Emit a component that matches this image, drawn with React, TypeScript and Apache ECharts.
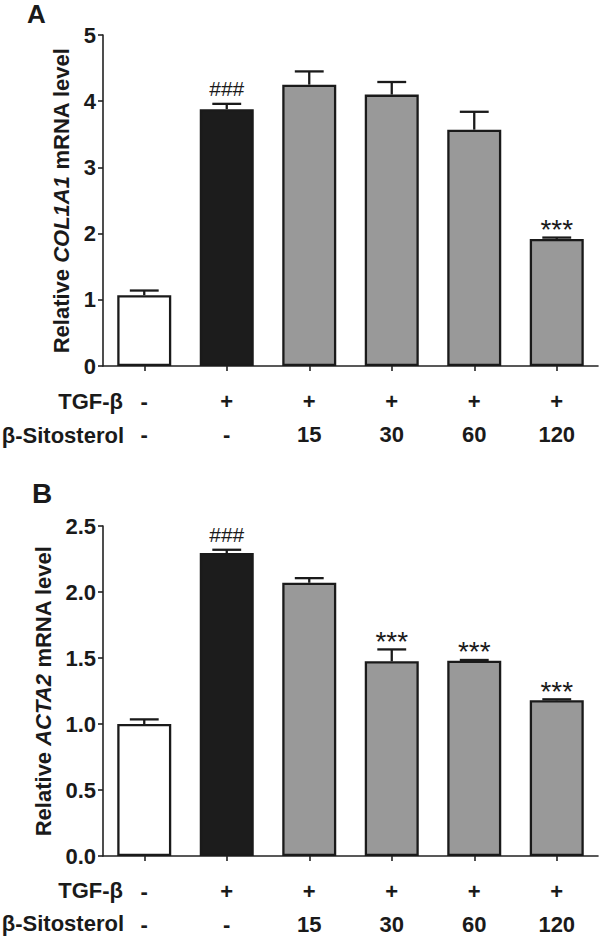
import React, { useEffect, useRef } from "react";
import * as echarts from "echarts";

const FONT = 'Arial, "Liberation Sans", Helvetica, sans-serif';

const categories = ["Control", "TGF-β", "TGF-β+15", "TGF-β+30", "TGF-β+60", "TGF-β+120"];
const tgfRow = ["-", "+", "+", "+", "+", "+"];
const sitoRow = ["-", "-", "15", "30", "60", "120"];

const col1a1Mean = [1.07, 3.88, 4.25, 4.1, 3.57, 1.92];
const col1a1Err = [0.07, 0.08, 0.2, 0.19, 0.27, 0.02];
const col1a1Sig = ["", "###", "", "", "", "***"];

const acta2Mean = [1.0, 2.295, 2.07, 1.475, 1.48, 1.18];
const acta2Err = [0.035, 0.025, 0.035, 0.09, 0.005, 0.007];
const acta2Sig = ["", "###", "", "***", "***", "***"];

const barColors = ["#ffffff", "#1c1c1c", "#999999", "#999999", "#999999", "#999999"];

const yTicksA = { min: 0, max: 5, interval: 1 };
const yTicksB = { min: 0, max: 2.5, interval: 0.5 };

const INK = "#1a1a1a";

function makeErrSeries(gi: number, means: number[], errs: number[], sig: string[]) {
  return {
    type: "custom",
    xAxisIndex: gi * 3,
    yAxisIndex: gi,
    clip: false,
    z: 5,
    encode: { x: 0, y: 1 },
    data: means.map((m, i) => [i, m, errs[i]]),
    renderItem: (params: any, api: any) => {
      const x = api.value(0);
      const m = api.value(1);
      const e = api.value(2);
      const top = api.coord([x, m + e]);
      const base = api.coord([x, m]);
      const hw = api.size([1, 0])[0] * 0.175;
      const s = sig[params.dataIndex];
      const children: any[] = [
        {
          type: "line",
          shape: { x1: base[0], y1: base[1], x2: top[0], y2: top[1] },
          style: { stroke: INK, lineWidth: 2.3 },
        },
        {
          type: "line",
          shape: { x1: top[0] - hw, y1: top[1], x2: top[0] + hw, y2: top[1] },
          style: { stroke: INK, lineWidth: 2.3 },
        },
      ];
      if (s) {
        const isHash = s[0] === "#";
        children.push({
          type: "text",
          style: {
            text: s,
            x: top[0],
            y: isHash ? top[1] - 15 : top[1] - 8,
            align: "center",
            verticalAlign: "middle",
            textAlign: "center",
            textVerticalAlign: "middle",
            fontSize: isHash ? 21 : 28,
            fontFamily: FONT,
            fill: INK,
          },
        });
      }
      return { type: "group", children };
    },
  };
}

function makeBarSeries(gi: number, means: number[]) {
  return {
    type: "bar",
    xAxisIndex: gi * 3,
    yAxisIndex: gi,
    barWidth: 54,
    z: 3,
    data: means.map((v, i) => ({
      value: v,
      itemStyle: { color: barColors[i], borderColor: INK, borderWidth: 2.3 },
    })),
  };
}

function xAxesFor(gi: number) {
  const main = {
    gridIndex: gi,
    type: "category",
    data: categories,
    position: "bottom",
    axisLine: { show: true, lineStyle: { color: "#222", width: 1.6 } },
    axisTick: { show: true, alignWithLabel: true, length: 5, lineStyle: { color: "#222", width: 1.6 } },
    axisLabel: { show: false },
    splitLine: { show: false },
  };
  const row = (data: string[], offset: number) => ({
    gridIndex: gi,
    type: "category",
    data,
    position: "bottom",
    offset,
    axisLine: { show: false },
    axisTick: { show: false },
    splitLine: { show: false },
    axisLabel: {
      interval: 0,
      margin: 0,
      verticalAlign: "middle",
      fontSize: 22,
      fontWeight: "bold",
      fontFamily: FONT,
      color: INK,
    },
  });
  return [main, row(tgfRow, 35), row(sitoRow, 68)];
}

function yAxisFor(gi: number, t: any, nameRich: string, gap: number, fmt?: (v: number) => string) {
  return {
    gridIndex: gi,
    type: "value",
    min: t.min,
    max: t.max,
    interval: t.interval,
    axisLine: { show: true, lineStyle: { color: "#222", width: 1.6 } },
    axisTick: { show: true, length: 5, lineStyle: { color: "#222", width: 1.6 } },
    splitLine: { show: false },
    axisLabel: {
      margin: 7,
      fontSize: 22,
      fontWeight: "bold",
      fontFamily: FONT,
      color: INK,
      formatter: fmt,
    },
    name: nameRich,
    nameLocation: "middle",
    nameRotate: 90,
    nameGap: gap,
    nameTextStyle: {
      color: INK,
      rich: {
        n: { fontSize: 22, fontWeight: "bold", fontFamily: FONT, color: INK },
        i: { fontSize: 22, fontWeight: "bold", fontStyle: "italic", fontFamily: FONT, color: INK },
      },
    },
  };
}

function txt(text: string, x: number, y: number, size: number, align: string) {
  return {
    type: "text",
    style: {
      text,
      x,
      y,
      textAlign: align,
      textVerticalAlign: "middle",
      align,
      verticalAlign: "middle",
      fontSize: size,
      fontWeight: "bold",
      fontFamily: FONT,
      fill: INK,
    },
  };
}

export default function App() {
  const ref = useRef<HTMLDivElement>(null);
  useEffect(() => {
    if (!ref.current) return;
    const chart = echarts.init(ref.current, undefined, { renderer: "svg" });
    const option: any = {
      animation: false,
      backgroundColor: "#ffffff",
      grid: [
        { left: 103, width: 495, top: 35, height: 331 },
        { left: 103, width: 495, top: 526, height: 330 },
      ],
      xAxis: [...xAxesFor(0), ...xAxesFor(1)],
      yAxis: [
        yAxisFor(0, yTicksA, "{n|Relative }{i|COL1A1}{n| mRNA level}", 28),
        yAxisFor(1, yTicksB, "{n|Relative }{i|ACTA2}{n| mRNA level}", 49, (v: number) => v.toFixed(1)),
      ],
      series: [
        makeBarSeries(0, col1a1Mean),
        makeErrSeries(0, col1a1Mean, col1a1Err, col1a1Sig),
        makeBarSeries(1, acta2Mean),
        makeErrSeries(1, acta2Mean, acta2Err, acta2Sig),
      ],
      graphic: [
        txt("A", 27, 14, 26, "left"),
        txt("B", 32, 493, 28, "left"),
        txt("TGF-β", 123, 401, 22, "right"),
        txt("β-Sitosterol", 124, 435, 22, "right"),
        txt("TGF-β", 123, 890, 22, "right"),
        txt("β-Sitosterol", 124, 923, 22, "right"),
      ],
    };
    chart.setOption(option);
    return () => chart.dispose();
  }, []);
  return (
    <div
      ref={ref}
      style={{ position: "fixed", left: 0, top: 0, width: 600, height: 936, background: "#fff" }}
    />
  );
}
